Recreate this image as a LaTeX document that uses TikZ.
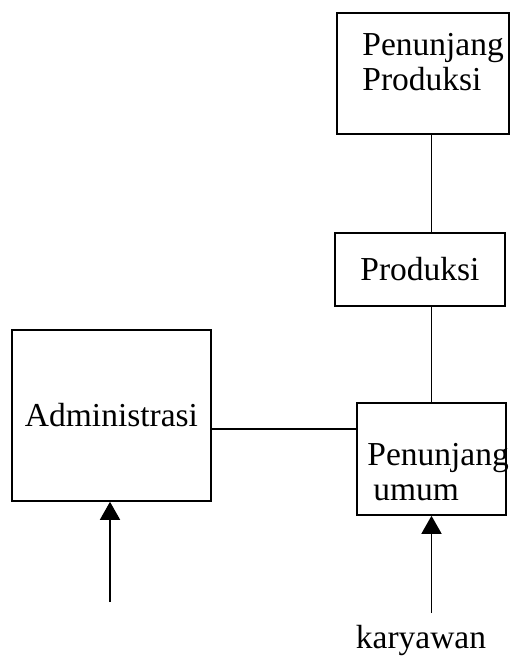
\documentclass[tikz,border=0pt]{standalone}
\usepackage{fontspec}
\setmainfont{Liberation Serif}
\usepackage{tikz}
\usetikzlibrary{calc,arrows.meta}

\begin{document}
\begin{tikzpicture}[x=1pt, y=-1pt, thick,
    kotak/.style = {draw, line width=1.6pt, inner sep=0pt, font=\fontsize{33.5}{35}\selectfont},
    teks/.style = {inner sep=0pt, align=left, font=\fontsize{33.5}{35}\selectfont},
    garis/.style = {line width=1.3pt},
    panah/.style = {line width=1.6pt, -{Triangle[length=18pt, width=20pt]}}]
    \useasboundingbox (0,0) rectangle (511,662);

	\node [kotak, minimum width=172pt, minimum height=121pt] (pp) at (423, 73.5) {};
	\node [kotak, minimum width=170pt, minimum height=73pt] (prod) at (420, 269.5) {Produksi};
	\node [kotak, minimum width=199pt, minimum height=171pt] (adm) at (111.5, 415.5) {Administrasi};
	\node [kotak, minimum width=149pt, minimum height=112pt] (pu) at (431.5, 459) {};

	\node [teks, anchor=north west] (tpp) at (362, 33) {Penunjang\\Produksi};
	\node [teks, anchor=north west] (tpu) at (367, 443) {Penunjang\\\hspace{6pt}umum};
	\node [teks, anchor=base] (kry) at (421, 648) {karyawan};

    \coordinate (ekorA) at (110, 602);
    \coordinate (ekorB) at (431.5, 613);

    \draw[garis] (pp.south -| pu.north) --  (prod.north -| pu.north);
    \draw[garis] (prod.south -| pu.north) --  (pu.north);
    \draw[garis] (adm.east) ++(0, 13.5) coordinate (j) --  (j -| pu.west);
    \draw[panah] (ekorA) --  (ekorA |- adm.south);
    \draw[panah] (ekorB) --  (pu.south);

\end{tikzpicture}
\end{document}
